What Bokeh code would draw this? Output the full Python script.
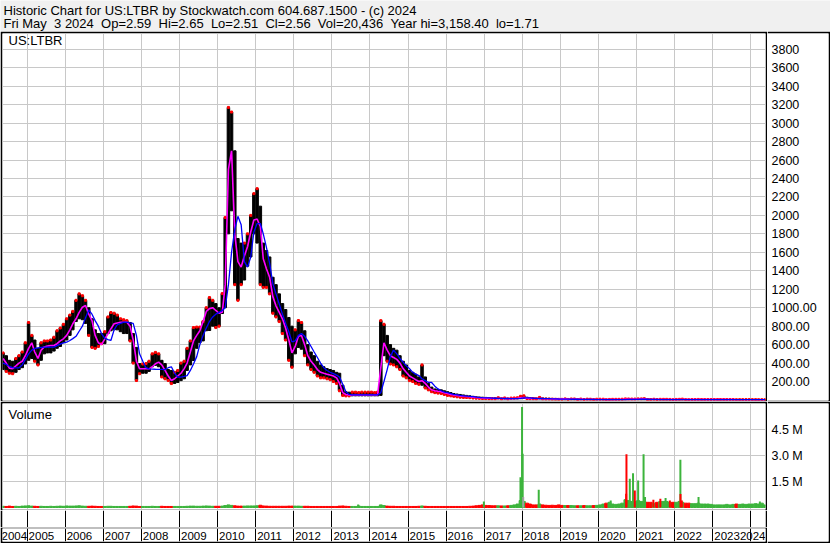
import pandas as pd
from bokeh.plotting import figure
from bokeh.layouts import column, row
from bokeh.models import Range1d, FixedTicker, Grid, ColumnDataSource, LabelSet, Label
from bokeh.core.properties import value
from bokeh.embed import file_html
from bokeh.resources import INLINE

FONT = "Liberation Sans"

# ---------------- data (monthly, May 2004 .. May 2024) ----------------
first_month = "2004-05-01"
n_months = 241

price_hi = [
    510, 480, 430, 420, 450, 480, 520, 620,                      # 2004
    840, 700, 650, 560, 620, 640, 640, 650, 680, 750, 780, 820,  # 2005
    880, 920, 960, 1080, 1150, 1130, 1080, 1000, 880, 760, 720, 720,  # 2006
    740, 900, 948, 940, 920, 880, 870, 860, 840, 720, 570, 395,  # 2007
    390, 395, 420, 500, 516, 500, 430, 395, 330, 320, 300, 320,  # 2008
    400, 420, 560, 640, 785, 790, 790, 850, 1000, 1110, 1080, 1045,  # 2009
    1000, 1153, 1977, 3170, 3120, 2700, 1750, 1700, 1700, 1800, 2000, 2236,  # 2010
    2290, 2100, 1700, 1620, 1550, 1330, 1250, 1150, 1045, 980, 894, 800,  # 2011
    760, 861, 840, 750, 600, 520, 480, 420, 380, 360, 340, 330,  # 2012
    320, 300, 290, 160, 90, 85, 85, 85, 80, 85, 85, 85,          # 2013
    85, 80, 85, 860, 820, 700, 600, 560, 540, 480, 420, 380,     # 2014
    320, 300, 280, 250, 380, 250, 180, 140, 120, 115, 110, 100,  # 2015
    90, 80, 70, 65, 60, 55, 50, 45, 40, 35, 32, 30,              # 2016
    28, 26, 25, 24, 24, 22, 22, 20, 20, 22, 24, 40,              # 2017
    45, 30, 26, 24, 22, 28, 22, 20, 18, 17, 16, 14,              # 2018
    13, 12, 12, 11, 11, 10, 10, 9, 9, 8, 8, 8,                   # 2019
    8, 8, 7, 6, 7, 7, 7, 8, 12, 11, 10, 10,                      # 2020
    12, 12, 14, 10, 9, 8, 8, 7, 7, 7, 6, 6,                      # 2021
    6, 7, 9, 7, 6, 5, 5, 6, 5, 5, 5, 5,                          # 2022
    5, 5, 5, 5, 5, 5, 5, 4, 4, 4, 4, 4,                          # 2023
    4, 4, 3, 3, 3,                                               # 2024
]
price_lo = [
    330, 310, 290, 285, 300, 330, 350, 390,
    430, 450, 420, 380, 430, 500, 510, 510, 530, 560, 580, 620,
    650, 700, 760, 850, 880, 870, 830, 700, 570, 560, 580, 610,
    610, 720, 750, 760, 760, 740, 720, 720, 640, 400, 211, 285,
    290, 290, 310, 360, 375, 360, 250, 230, 211, 178, 180, 190,
    210, 230, 320, 380, 428, 560, 620, 640, 750, 753, 800, 785,
    800, 937, 1000, 1800, 2050, 1250, 1080, 1250, 1300, 1450, 1550, 1800,
    1700, 1250, 1220, 1220, 1150, 940, 900, 850, 720, 650, 430, 355,
    500, 569, 550, 480, 380, 330, 300, 260, 240, 240, 230, 220,
    200, 180, 100, 50, 45, 45, 45, 45, 45, 45, 45, 45,
    45, 45, 45, 50, 480, 420, 390, 380, 360, 330, 260, 240,
    210, 200, 180, 170, 160, 130, 110, 90, 80, 75, 70, 60,
    50, 45, 40, 35, 30, 28, 27, 25, 22, 20, 18, 16,
    15, 14, 14, 13, 13, 12, 12, 11, 11, 12, 13, 14,
    16, 15, 14, 13, 12, 12, 11, 10, 10, 9, 8, 7,
    7, 7, 6, 6, 6, 5, 5, 5, 4, 4, 4, 4,
    4, 4, 3, 3, 3, 3, 4, 4, 4, 5, 5, 5,
    6, 6, 6, 5, 5, 5, 4, 4, 4, 4, 4, 3,
    3, 3, 4, 4, 3, 3, 3, 3, 3, 3, 3, 3,
    3, 3, 3, 3, 3, 3, 3, 3, 2, 2, 2, 2,
    2, 2, 2, 2, 2,
]
ma_fast = [
    450, 400, 345, 340, 370, 400, 420, 480,
    560, 620, 520, 450, 540, 575, 585, 590, 590, 610, 640, 663,
    700, 760, 826, 880, 950, 1005, 1024, 930, 861, 700, 620, 600,
    660, 717, 770, 826, 835, 843, 843, 843, 800, 650, 420, 338,
    338, 338, 338, 360, 392, 410, 380, 320, 260, 211, 230, 260,
    290, 340, 400, 520, 640, 700, 750, 850, 960, 990, 1000, 970,
    940, 950, 1250, 2500, 2700, 1800, 1500, 1440, 1560, 1660, 1820, 1950,
    1960, 1880, 1530, 1420, 1330, 1120, 1020, 950, 880, 780, 650, 510,
    580, 690, 700, 600, 480, 420, 380, 330, 300, 290, 280, 270,
    260, 240, 180, 80, 60, 55, 55, 55, 55, 55, 55, 55,
    55, 55, 55, 350, 620, 540, 480, 460, 440, 400, 340, 300,
    260, 240, 220, 200, 210, 180, 140, 110, 100, 95, 90, 80,
    70, 60, 55, 50, 45, 40, 38, 35, 30, 27, 25, 22,
    20, 19, 18, 17, 17, 16, 16, 15, 15, 16, 18, 24,
    26, 20, 18, 17, 16, 17, 15, 14, 13, 12, 11, 10,
    9, 9, 8, 8, 8, 7, 7, 6, 6, 6, 5, 5,
    5, 5, 4, 4, 4, 4, 5, 5, 7, 7, 7, 7,
    8, 9, 9, 7, 6, 6, 5, 5, 5, 5, 5, 4,
    4, 5, 6, 5, 4, 4, 4, 4, 4, 4, 4, 4,
    4, 4, 4, 4, 4, 4, 4, 3, 3, 3, 3, 3,
    3, 3, 3, 3, 3,
]
ma_slow = [
    400, 385, 365, 350, 349, 349, 380, 440,
    500, 540, 558, 565, 570, 572, 572, 572, 573, 590, 605, 618,
    626, 645, 665, 690, 745, 800, 890, 975, 930, 860, 800, 720,
    670, 655, 645, 760, 815, 830, 840, 843, 835, 830, 700, 500,
    420, 350, 338, 335, 333, 332, 331, 330, 350, 360, 290, 247,
    247, 255, 265, 320, 390, 470, 600, 700, 780, 850, 900, 930,
    950, 970, 1000, 1250, 1600, 1850, 1990, 1900, 1500, 1440, 1550, 1820,
    1912, 1912, 1800, 1650, 1480, 1260, 1150, 1040, 930, 830, 740, 630,
    640, 700, 720, 690, 640, 580, 520, 460, 400, 350, 320, 300,
    285, 270, 250, 170, 90, 60, 55, 55, 55, 55, 55, 55,
    55, 55, 55, 80, 200, 330, 470, 540, 500, 450, 410, 370,
    340, 300, 280, 265, 230, 210, 190, 190, 150, 120, 100, 85,
    80, 70, 60, 55, 50, 45, 42, 40, 36, 32, 28, 25,
    24, 22, 20, 19, 18, 17, 16, 16, 15, 15, 16, 18,
    22, 24, 22, 19, 17, 16, 16, 15, 14, 13, 12, 11,
    10, 9, 9, 8, 8, 8, 7, 7, 6, 6, 6, 5,
    5, 5, 5, 4, 4, 4, 4, 5, 5, 6, 6, 7,
    7, 8, 8, 8, 7, 6, 6, 5, 5, 5, 5, 5,
    4, 4, 5, 5, 5, 4, 4, 4, 4, 4, 4, 4,
    4, 4, 4, 4, 4, 4, 4, 4, 3, 3, 3, 3,
    3, 3, 3, 3, 3,
]
# typical daily volume per month (thousands of shares)
vol_base_k = [
    70, 60, 80, 60, 70, 60, 80, 90,
    100, 80, 70, 60, 70, 60, 60, 70, 60, 70, 80, 70,
    90, 80, 80, 90, 100, 80, 70, 70, 80, 70, 60, 60,
    60, 70, 70, 60, 60, 60, 60, 60, 70, 90, 80, 60,
    60, 60, 60, 70, 60, 60, 70, 60, 60, 60, 60, 60,
    60, 60, 70, 80, 80, 70, 70, 80, 90, 80, 70, 70,
    70, 80, 110, 150, 120, 100, 80, 80, 80, 90, 90, 90,
    100, 130, 90, 80, 70, 70, 70, 70, 70, 70, 80, 80,
    80, 80, 70, 70, 70, 60, 60, 60, 60, 60, 60, 60,
    60, 60, 80, 90, 70, 60, 60, 60, 90, 60, 60, 60,
    60, 60, 60, 150, 110, 80, 70, 70, 60, 60, 60, 60,
    60, 60, 60, 70, 90, 70, 60, 60, 60, 60, 60, 60,
    60, 60, 60, 60, 60, 60, 60, 70, 80, 100, 120, 150,
    120, 110, 100, 100, 100, 90, 90, 100, 120, 150, 200, 400,
    350, 250, 200, 150, 150, 200, 150, 130, 120, 130, 120, 150,
    120, 110, 110, 110, 100, 100, 100, 110, 100, 100, 110, 120,
    150, 200, 250, 300, 200, 180, 200, 250, 450, 400, 350, 350,
    400, 350, 350, 300, 300, 250, 300, 350, 350, 350, 300, 300,
    300, 350, 300, 250, 250, 220, 220, 250, 200, 200, 200, 180,
    150, 150, 150, 150, 180, 150, 180, 200, 180, 200, 180, 200,
    200, 220, 200, 250, 150,
]
# single-day volume spikes
spike_dates = ["2013-09-10", "2014-04-08", "2016-12-28", "2017-12-14", "2017-12-29",
               "2018-01-04", "2018-01-09", "2018-06-07", "2020-04-27", "2020-09-22",
               "2020-09-25", "2020-10-27", "2020-11-27", "2020-12-14", "2021-01-15",
               "2021-03-08", "2021-03-22", "2021-06-10", "2021-08-16", "2021-10-05",
               "2021-11-15", "2022-02-24", "2022-02-25", "2022-03-10", "2022-08-17",
               "2024-03-27"]
spike_vols = [170e3, 150e3, 350e3, 1.75e6, 5.8e6,
              3.1e6, 0.6e6, 1.02e6, 0.4e6, 0.79e6,
              3.07e6, 1.66e6, 1.98e6, 0.98e6, 1.56e6,
              3.07e6, 0.6e6, 0.45e6, 0.5e6, 0.55e6,
              0.4e6, 2.75e6, 0.78e6, 0.4e6, 0.6e6,
              0.35e6]
spike_dir = ["up", "up", "up", "up", "up",
             "up", "flat", "up", "up", "down",
             "down", "up", "up", "down", "up",
             "up", "up", "down", "down", "up",
             "down", "up", "down", "down", "up",
             "up"]

price_ticks = [200, 400, 600, 800, 1000, 1200, 1400, 1600, 1800, 2000, 2200, 2400,
               2600, 2800, 3000, 3200, 3400, 3600, 3800]
price_tick_labels = ["200.00", "400.00", "600.00", "800.00", "1000.00", "1200", "1400",
                     "1600", "1800", "2000", "2200", "2400", "2600", "2800", "3000",
                     "3200", "3400", "3600", "3800"]
vol_ticks = [1.5e6, 3.0e6, 4.5e6]
vol_tick_labels = ["1.5 M", "3.0 M", "4.5 M"]
year_labels = ["2004", "2005", "2006", "2007", "2008", "2009", "2010", "2011", "2012",
               "2013", "2014", "2015", "2016", "2017", "2018", "2019", "2020", "2021",
               "2022", "2023", "2024"]

NB = " \u00a0"  # keeps the double spacing of the original header visible
header_line1 = "Historic Chart for US:LTBR by Stockwatch.com 604.687.1500 - (c) 2024"
header_line2 = ("Fri May  3 2024  Op=2.59  Hi=2.65  Lo=2.51  Cl=2.56  Vol=20,436  "
                "Year hi=3,158.40  lo=1.71").replace("  ", NB)

for arr in (price_hi, price_lo, ma_fast, ma_slow, vol_base_k):
    assert len(arr) == n_months, len(arr)

# ---------------- derived ----------------
months = pd.date_range(first_month, periods=n_months, freq="MS") + pd.Timedelta(days=14)
DAY = 86400000.0
GREEN, RED, GRAY = "#3CB43C", "#FF0000", "#A0A0A0"
GRID = "#C8C8C8"

tick_y = [price_hi[0]] + [price_hi[i] if ma_fast[i] >= ma_fast[i - 1] else price_lo[i]
                          for i in range(1, n_months)]
base_col = [GREEN] + [GREEN if ma_fast[i] >= ma_fast[i - 1] else RED for i in range(1, n_months)]
spike_col = [{"up": GREEN, "down": RED, "flat": GRAY}[d] for d in spike_dir]

msrc = ColumnDataSource(dict(d=months, hi=price_hi, lo=price_lo, fast=ma_fast, slow=ma_slow,
                             ty=tick_y, vol=[v * 1000 for v in vol_base_k], vc=base_col))
ssrc = ColumnDataSource(dict(d=pd.to_datetime(spike_dates), v=spike_vols, c=spike_col))

x_start = pd.Timestamp("2004-05-10")
x_end = pd.Timestamp("2024-05-20")
xr = Range1d(x_start, x_end)
x_start_ms = x_start.value / 1e6
x_end_ms = x_end.value / 1e6
year_starts = [pd.Timestamp(f"{y}-01-01").value / 1e6 for y in range(2005, 2025)]


def set_font(m):
    try:
        m.text_font = value(FONT)
    except Exception:
        m.text_font = FONT


def panel(w, h, x_range, y_range, l=0, r=0, t=0, b=0, fill="black", bg="white"):
    p = figure(width=w, height=h, x_range=x_range, y_range=y_range,
               x_axis_location=None, y_axis_location=None, toolbar_location=None,
               output_backend="svg", min_border_left=l, min_border_right=r,
               min_border_top=t, min_border_bottom=b, border_fill_color=fill,
               background_fill_color=bg, outline_line_color=None)
    p.xgrid.visible = False
    p.ygrid.visible = False
    return p


def add_grid(p, dim, ticks, color, width=1):
    p.add_layout(Grid(dimension=dim, ticker=FixedTicker(ticks=ticks),
                      grid_line_color=color, grid_line_width=width))


W_MAIN, W_AX = 767, 63

# ---------------- header ----------------
hdr = panel(W_MAIN + W_AX, 31, Range1d(0, 1), Range1d(0, 1), fill="#F0F0F0", bg="#F0F0F0")
for txt, off in ((header_line1, -10), (header_line2, -23)):
    lab = Label(x=0, y=1, x_offset=3, y_offset=off, text=txt, text_font_size="13px",
                text_color="black", text_baseline="alphabetic")
    set_font(lab)
    hdr.add_layout(lab)

# ---------------- price panel ----------------
pyr = Range1d(-5.4, 3971)
price = panel(W_MAIN, 370, xr, pyr, l=2, r=2, t=2, b=1)
add_grid(price, 0, year_starts, GRID)
add_grid(price, 1, price_ticks, GRID)
price.vbar(x="d", top="hi", bottom="lo", width=24 * DAY, color="black", source=msrc)
price.scatter(x="d", y="ty", marker="square", size=2, color="red", source=msrc)
price.line(x="d", y="fast", color="#FF00FF", line_width=1.6, source=msrc)
price.line(x="d", y="slow", color="#0000FF", line_width=1.3, source=msrc)
lab = Label(x=x_start_ms, y=pyr.end, x_offset=6, y_offset=1, text="US:LTBR",
            text_font_size="13px", text_color="black", text_baseline="top")
set_font(lab)
price.add_layout(lab)

pax = panel(W_AX, 370, Range1d(0, 1), pyr, r=2, t=2, b=1)
ls = LabelSet(x="x", y="y", text="t", x_offset=4, text_baseline="middle",
              text_font_size="12.5px", text_color="black",
              source=ColumnDataSource(dict(x=[0] * len(price_ticks), y=price_ticks,
                                           t=price_tick_labels)))
set_font(ls)
pax.add_layout(ls)

# ---------------- volume panel ----------------
per_px = 1.5e6 / 26.0
vol = panel(W_MAIN, 109, xr, Range1d(-2 * per_px, 104 * per_px), l=2, r=2, t=2, b=1)
add_grid(vol, 0, year_starts, GRID)
add_grid(vol, 1, vol_ticks, GRID)
vol.vbar(x="d", top="vol", bottom=0, width=28 * DAY, color="vc", source=msrc)
vol.segment(x0="d", y0=0, x1="d", y1="v", line_color="c", line_width=2, source=ssrc)
lab = Label(x=x_start_ms, y=104 * per_px, x_offset=6, y_offset=-3, text="Volume",
            text_font_size="13px", text_color="black", text_baseline="top")
set_font(lab)
vol.add_layout(lab)

vax = panel(W_AX, 142, Range1d(0, 1), Range1d(-34 * per_px, 104 * per_px), r=2, t=2, b=2)
ls = LabelSet(x="x", y="y", text="t", x_offset=4, text_baseline="middle",
              text_font_size="12.5px", text_color="black",
              source=ColumnDataSource(dict(x=[0] * 3, y=vol_ticks, t=vol_tick_labels)))
set_font(ls)
vax.add_layout(ls)

# ---------------- year rows ----------------
ysep = panel(W_MAIN, 17, xr, Range1d(0, 1), l=2, r=2)
add_grid(ysep, 0, year_starts, "black")
ylab = panel(W_MAIN, 16, xr, Range1d(0, 1), l=2, r=2, t=1, b=2)
add_grid(ylab, 0, year_starts, "black")
mid = year_labels[1:-1]
ls = LabelSet(x="x", y="y", text="t", x_offset=1.5, text_baseline="middle",
              text_align="left", text_font_size="11.5px", text_color="black",
              source=ColumnDataSource(dict(x=year_starts[:-1], y=[0.45] * len(mid), t=mid)))
set_font(ls)
ylab.add_layout(ls)
ends = [year_labels[0], year_labels[-1]]
ls2 = LabelSet(x="x", y="y", text="t", x_offset=0, text_baseline="middle",
               text_align="right", text_font_size="11.5px", text_color="black",
               source=ColumnDataSource(dict(x=[year_starts[0], x_end_ms], y=[0.45, 0.45],
                                            t=ends)))
set_font(ls2)
ylab.add_layout(ls2)

layout = column(hdr, row(price, pax), row(column(vol, ysep, ylab), vax))

open("out.html", "w").write(file_html(layout, INLINE))
